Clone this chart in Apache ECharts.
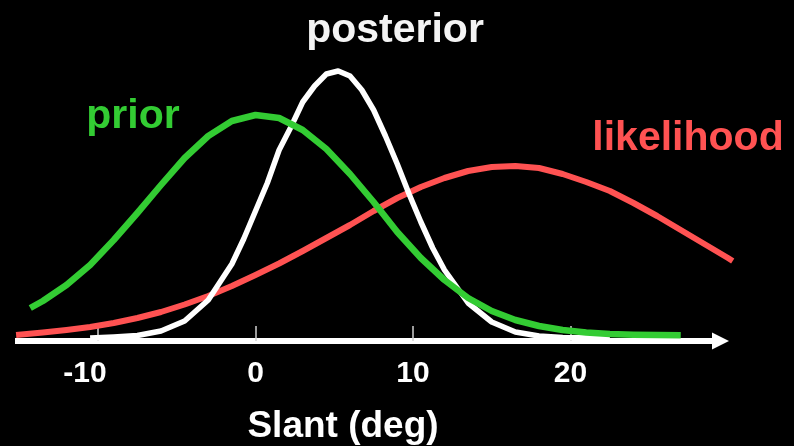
<!DOCTYPE html>
<html>
<head>
<meta charset="utf-8">
<script src="https://cdn.jsdelivr.net/npm/echarts@6/dist/echarts.min.js"></script>
<style>
  html, body { margin: 0; padding: 0; background: #000; }
  #chart { width: 794px; height: 446px; }
</style>
</head>
<body>
<div id="chart"></div>
<script>
// Slant axis (degrees) and tick labels
const tickValues = [-10, 0, 10, 20];

// Prior belief about slant
const priorSlant = [-14.3, -13.5, -12, -10.5, -9, -7.5, -6, -4.5, -3, -1.5, 0, 1.5, 3, 4.5, 6, 7.5, 9, 10.5, 12, 13.5, 15, 16.5, 18, 19.5, 21, 22.5, 24, 25.5, 27];
const priorValues = [30, 37, 53, 73, 98, 125, 153, 180, 202, 217, 223, 220, 208, 189, 164, 136, 106, 80, 58, 40, 27, 18, 12, 8, 5.5, 4, 3.3, 3, 2.8];

// Posterior after combining prior and likelihood
const posteriorSlant = [-10.5, -9, -7.5, -6, -4.5, -3, -1.5, -0.75, 0, 0.75, 1.5, 2.25, 3, 3.75, 4.5, 5.25, 6, 6.75, 7.5, 8.25, 9, 9.75, 10.5, 11.25, 12, 13.5, 15, 16.5, 18, 19.5, 21, 22.5];
const posteriorValues = [0, 1, 2.5, 7, 17, 38, 74, 99, 127, 155, 188, 211, 236, 252, 264, 267, 262, 248, 228, 202, 174, 144, 116, 90, 68, 35, 16, 6, 2, 0.6, 0.2, 0];

// Likelihood of the sensory measurement
const likelihoodSlant = [-15.2, -13.5, -12, -10.5, -9, -7.5, -6, -4.5, -3, -1.5, 0, 1.5, 3, 4.5, 6, 7.5, 9, 10.5, 12, 13.5, 15, 16.5, 18, 19.5, 21, 22.5, 24, 25.5, 27, 28.5, 30, 30.3];
const likelihoodValues = [3, 5.5, 8, 11, 15, 20, 26, 33.5, 42, 52, 63, 74.5, 87, 100, 113, 127, 140, 151, 160, 167, 171, 172, 170, 164, 156, 147, 135, 122, 108, 94, 80, 77];

const GREEN = '#33cc33';
const RED = '#ff5252';
const WHITE = '#ffffff';
const FONT = '"Liberation Sans", Arial, Helvetica, sans-serif';

// Both grids share the same slant scale (px per degree); the first one holds
// the curves and extends a little further right than the arrowed axis line.
const SLANT_MIN = -15.27;
const SLANT_MAX_CURVES = 30.35;
const SLANT_MAX_AXIS = 29.52;

function pairs(xs, ys) {
  return xs.map((x, i) => [x, ys[i]]);
}

function curve(name, xs, ys, color, width, z) {
  return {
    name: name,
    type: 'line',
    xAxisIndex: 0,
    yAxisIndex: 0,
    data: pairs(xs, ys),
    showSymbol: false,
    clip: false,
    z: z,
    lineStyle: { color: color, width: width, cap: 'butt', join: 'round' }
  };
}

function label(text, color, size, x, y) {
  return {
    type: 'text',
    x: x,
    y: y,
    style: { text: text, fill: color, font: 'bold ' + size + 'px ' + FONT, align: 'center', verticalAlign: 'middle' }
  };
}

const chart = echarts.init(document.getElementById('chart'), null, { renderer: 'canvas' });

chart.setOption({
  backgroundColor: '#000',
  animation: false,
  grid: [
    { left: 15, right: 60.5, top: 38, bottom: 105, containLabel: false },
    { left: 15, right: 73.5, top: 38, bottom: 105, containLabel: false }
  ],
  xAxis: [
    {
      type: 'value',
      gridIndex: 0,
      min: SLANT_MIN,
      max: SLANT_MAX_CURVES,
      splitLine: { show: false },
      axisLine: { show: false, onZero: false },
      axisTick: {
        show: true,
        inside: true,
        length: 15,
        customValues: tickValues,
        lineStyle: { color: '#d0d0d0', width: 1.5 }
      },
      axisLabel: {
        show: true,
        customValues: tickValues,
        margin: 18,
        color: WHITE,
        fontFamily: FONT,
        fontWeight: 'bold',
        fontSize: 30,
        formatter: function (v) {
          return v < 0 ? '{neg|' + v + '}' : '{pos|' + v + '}';
        },
        rich: {
          neg: { color: WHITE, fontFamily: FONT, fontWeight: 'bold', fontSize: 30, padding: [0, 26, 0, 0] },
          pos: { color: WHITE, fontFamily: FONT, fontWeight: 'bold', fontSize: 30 }
        }
      }
    },
    {
      type: 'value',
      gridIndex: 1,
      min: SLANT_MIN,
      max: SLANT_MAX_AXIS,
      splitLine: { show: false },
      axisTick: { show: false },
      axisLabel: { show: false },
      axisLine: {
        show: true,
        onZero: false,
        symbol: ['none', 'triangle'],
        symbolSize: [17, 17],
        lineStyle: { color: WHITE, width: 6, cap: 'butt' }
      }
    }
  ],
  yAxis: [
    { type: 'value', gridIndex: 0, min: -3, max: 300, show: false },
    { type: 'value', gridIndex: 1, min: -3, max: 300, show: false }
  ],
  series: [
    curve('likelihood', likelihoodSlant, likelihoodValues, RED, 6, 2),
    curve('posterior', posteriorSlant, posteriorValues, WHITE, 5.5, 3),
    curve('prior', priorSlant, priorValues, GREEN, 6.5, 4)
  ],
  graphic: [
    label('posterior', '#f4f4f4', 41, 395, 31),
    label('prior', GREEN, 41, 133, 117),
    label('likelihood', RED, 41, 688, 139),
    label('Slant (deg)', WHITE, 37, 343, 427)
  ]
});
</script>
</body>
</html>
